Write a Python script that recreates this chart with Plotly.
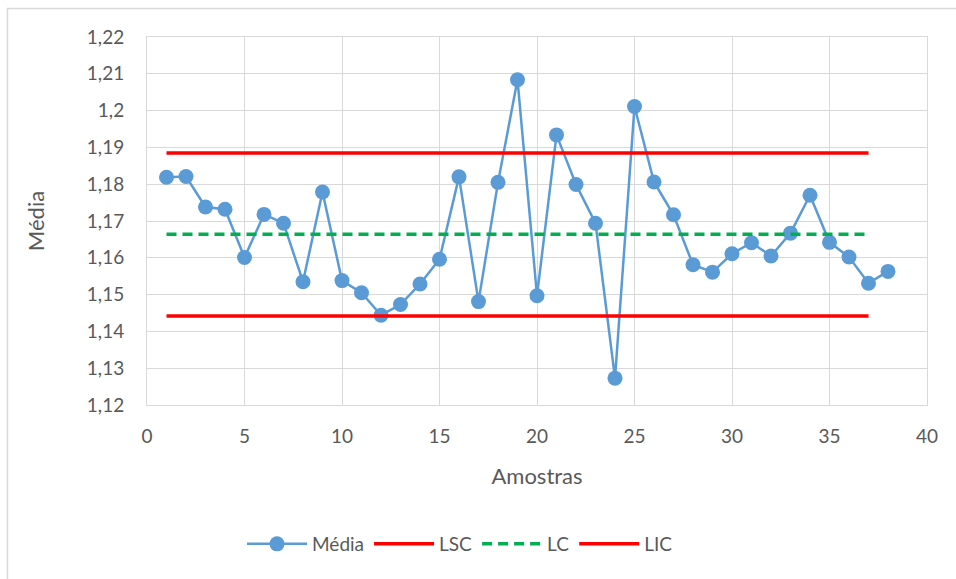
import plotly.graph_objects as go

amostras = list(range(1, 39))
media = [1.1819, 1.1821, 1.1738, 1.1732, 1.1601, 1.1718, 1.1694, 1.1535, 1.1779, 1.1538,
         1.1505, 1.1444, 1.1473, 1.1529, 1.1596, 1.1820, 1.1481, 1.1805, 1.2084, 1.1497,
         1.1934, 1.1799, 1.1694, 1.1273, 1.2011, 1.1806, 1.1717, 1.1581, 1.1561, 1.1611,
         1.1641, 1.1605, 1.1667, 1.1770, 1.1642, 1.1602, 1.1531, 1.1563]
limite_x = list(range(1, 38))
lsc_val = 1.1885
lc_val = 1.1664
lic_val = 1.1442

y_tickvals = [1.12, 1.13, 1.14, 1.15, 1.16, 1.17, 1.18, 1.19, 1.20, 1.21, 1.22]
y_ticktext = ["1,12", "1,13", "1,14", "1,15", "1,16", "1,17", "1,18", "1,19", "1,2", "1,21", "1,22"]
x_tickvals = [0, 5, 10, 15, 20, 25, 30, 35, 40]

FONT = "Lato"
TXT = "#595959"
GRID = "#d9d9d9"

fig = go.Figure()
fig.add_trace(go.Scatter(x=amostras, y=media, name="Média", mode="lines+markers",
                         line=dict(color="#5b9bd5", width=2.5),
                         marker=dict(color="#5b9bd5", size=15)))
fig.add_trace(go.Scatter(x=limite_x, y=[lsc_val] * len(limite_x), name="LSC", mode="lines",
                         line=dict(color="#ff0000", width=3.5)))
fig.add_trace(go.Scatter(x=limite_x, y=[lc_val] * len(limite_x), name="LC", mode="lines",
                         line=dict(color="#00b050", width=3.5, dash="10px,6px")))
fig.add_trace(go.Scatter(x=limite_x, y=[lic_val] * len(limite_x), name="LIC", mode="lines",
                         line=dict(color="#ff0000", width=3.5)))

L, R, T, B = 147, 29, 37, 174
W, H = 956, 579
pw, ph = W - L - R, H - T - B

def px(xp):
    return (xp - L) / pw

def py(yp):
    return (H - B - yp) / ph

fig.add_shape(type="rect", xref="paper", yref="paper",
              x0=px(7.5), x1=px(970), y0=py(8.5), y1=py(600),
              line=dict(color=GRID, width=1.5), fillcolor="rgba(0,0,0,0)", layer="below")

fig.update_layout(
    width=W, height=H,
    margin=dict(l=L, r=R, t=T, b=B),
    paper_bgcolor="white", plot_bgcolor="white",
    separators=",.",
    font=dict(family=FONT, color=TXT, size=19),
    showlegend=True,
    legend=dict(orientation="h", x=px(460), xanchor="center", y=py(544), yanchor="middle",
                font=dict(size=19, color=TXT), itemwidth=60, bgcolor="rgba(0,0,0,0)"),
    xaxis=dict(range=[0, 40], tickvals=x_tickvals, showgrid=True, gridcolor=GRID, gridwidth=1,
               showline=True, mirror=True, linecolor=GRID, linewidth=1, zeroline=False,
               ticks="", ticklabelstandoff=14,
               title=dict(text="Amostras", font=dict(size=22, color=TXT), standoff=22)),
    yaxis=dict(range=[1.12, 1.22], tickvals=y_tickvals, ticktext=y_ticktext, showgrid=True,
               gridcolor=GRID, gridwidth=1, showline=True, mirror=True, linecolor=GRID,
               linewidth=1, zeroline=False, ticks="", ticklabelstandoff=18,
               title=dict(text="Média", font=dict(size=22, color=TXT), standoff=36)),
)

fig.write_html("out.html")
